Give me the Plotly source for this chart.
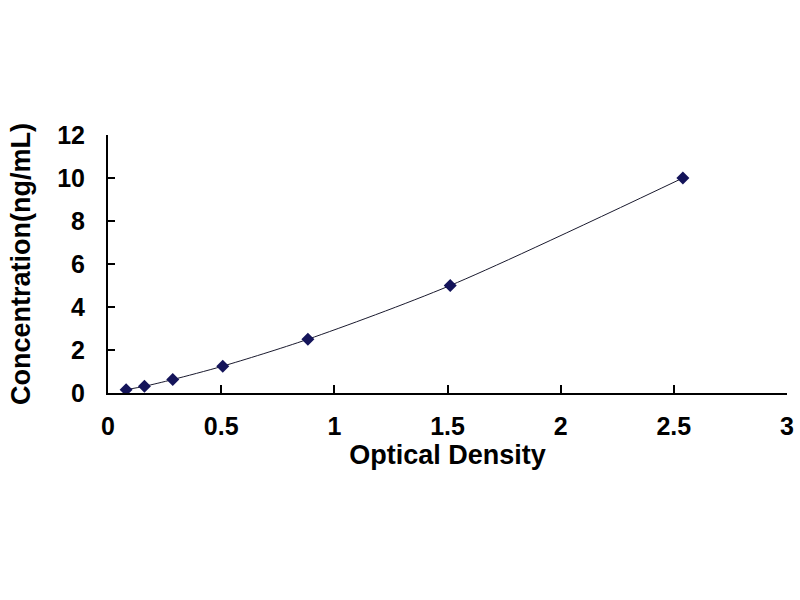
import plotly.graph_objects as go

# standard curve points
od = [0.08, 0.161, 0.286, 0.507, 0.883, 1.512, 2.54]
conc = [0.156, 0.3125, 0.625, 1.25, 2.5, 5, 10]

x_ticks = [0, 0.5, 1, 1.5, 2, 2.5, 3]
y_ticks = [0, 2, 4, 6, 8, 10, 12]

fig = go.Figure()

fig.add_trace(go.Scatter(
    x=od, y=conc,
    mode='lines+markers',
    line=dict(color='#1a1a2e', width=1, shape='spline', smoothing=0.8),
    marker=dict(symbol='diamond', size=10, color='#14145a'),
    showlegend=False
))

tick_font = dict(family='Liberation Sans, Arial', size=25, color='black')
title_font = dict(family='Liberation Sans, Arial', size=27, color='black')

fig.update_layout(
    width=800, height=600,
    margin=dict(l=108, r=13, t=135, b=207),
    paper_bgcolor='white',
    plot_bgcolor='white',
    font=tick_font,
    xaxis=dict(
        range=[0, 3], tickvals=x_ticks, ticktext=[f'<b>{v:g}</b>' for v in x_ticks],
        showline=True, linecolor='black', linewidth=2,
        ticks='inside', ticklen=8, tickwidth=2, tickcolor='black',
        showgrid=False, zeroline=False, automargin=False,
        ticklabelstandoff=10,
        title=dict(text='<b>Optical Density</b>', font=title_font, standoff=2),
    ),
    yaxis=dict(
        range=[0, 12], tickvals=y_ticks, ticktext=[f'<b>{v:g}</b>' for v in y_ticks],
        showline=True, linecolor='black', linewidth=2,
        ticks='inside', ticklen=7, tickwidth=2, tickcolor='black',
        showgrid=False, zeroline=False, automargin=False,
        ticklabelstandoff=16,
        title=dict(text='<b>Concentration(ng/mL)</b>', font=title_font, standoff=19),
    ),
)

# drop the default 8px body margin so the figure fills the window
fig.write_html("out.html", config={'displayModeBar': False},
               post_script="document.body.style.margin='0';")
